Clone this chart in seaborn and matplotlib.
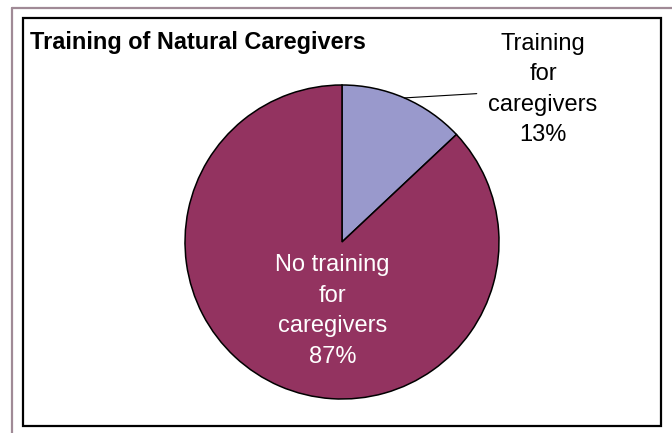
import seaborn as sns
import matplotlib.pyplot as plt
import numpy as np
from matplotlib.patches import Rectangle
from matplotlib.lines import Line2D

# Data
categories = ['Training\nfor\ncaregivers', 'No training\nfor\ncaregivers']
shares = [13, 87]
colors = ['#9999CC', '#933360']

sns.set_theme(style='white')
plt.rcParams['font.family'] = ['Liberation Sans', 'DejaVu Sans']

W, H = 672, 433
fig = plt.figure(figsize=(W / 100, H / 100), dpi=100)
fig.patch.set_facecolor('white')

# Outer mauve frame (top and left edges) and inner black chart box
fig.add_artist(Line2D([12 / W, 1], [1 - 7.5 / H, 1 - 7.5 / H], color='#A08A96', lw=1.6))
fig.add_artist(Line2D([12 / W, 12 / W], [0, 1 - 7.5 / H], color='#A08A96', lw=1.6))
fig.add_artist(Rectangle((22.5 / W, 1 - 425.5 / H), (661 - 22.5) / W, (425.5 - 18) / H,
                         transform=fig.transFigure, fill=False, edgecolor='black', lw=1.6))

# Pie axes: centre (342, 242), radius 157 px
cx, cy, r = 342, 242, 157
ax = fig.add_axes([(cx - r) / W, (H - cy - r) / H, 2 * r / W, 2 * r / H])
wedges, _ = ax.pie(shares, colors=colors, startangle=90, counterclock=False,
                   wedgeprops=dict(edgecolor='black', linewidth=1.1))
ax.set_xlim(-1, 1)
ax.set_ylim(-1, 1)
ax.set_aspect('auto')
ax.axis('off')

# Outside label with leader line for the small slice
w0 = wedges[0]
mid = np.deg2rad((w0.theta1 + w0.theta2) / 2)
ax.annotate(f'{categories[0]}\n{shares[0]}%', xy=(np.cos(mid), np.sin(mid)),
            xytext=(1.28, 0.97), ha='center', va='center', fontsize=17,
            linespacing=1.5, color='black', annotation_clip=False,
            arrowprops=dict(arrowstyle='-', color='black', lw=0.8,
                            shrinkA=6, shrinkB=0))

# Inside label for the large slice
ax.text(-0.06, -0.44, f'{categories[1]}\n{shares[1]}%', ha='center', va='center',
        fontsize=17, linespacing=1.5, color='white')

fig.text(30 / W, 1 - 42 / H, 'Training of Natural Caregivers', fontsize=16.9,
         fontweight='bold', ha='left', va='center', color='black')

plt.savefig('out.png', dpi=100)
